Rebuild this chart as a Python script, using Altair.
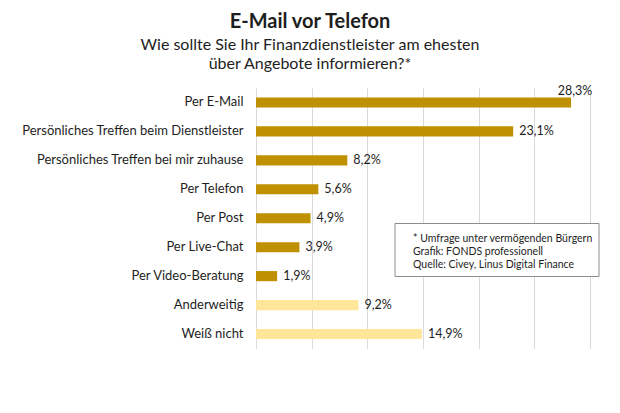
import altair as alt
import pandas as pd

categories = [
    "Per E-Mail",
    "Persönliches Treffen beim Dienstleister",
    "Persönliches Treffen bei mir zuhause",
    "Per Telefon",
    "Per Post",
    "Per Live-Chat",
    "Per Video-Beratung",
    "Anderweitig",
    "Weiß nicht",
]
values = [28.3, 23.1, 8.2, 5.6, 4.9, 3.9, 1.9, 9.2, 14.9]
groups = ["Kanal"] * 7 + ["Sonstiges"] * 2
notes = [
    "* Umfrage unter vermögenden Bürgern",
    "Grafik: FONDS professionell",
    "Quelle: Civey, Linus Digital Finance",
]

df = pd.DataFrame({"Kategorie": categories, "Wert": values, "Gruppe": groups})
df["Label"] = [f"{v:.1f}%".replace(".", ",") for v in values]

FONT = "Lato"
TXT = "#1E1E1E"

y_enc = alt.Y("Kategorie:N", sort=categories,
              scale=alt.Scale(paddingInner=0.65, paddingOuter=0.325),
              axis=alt.Axis(title=None, domain=False, ticks=False, labelPadding=13,
                            labelFont=FONT, labelFontSize=13, labelColor=TXT,
                            labelLimit=400))
x_enc = alt.X("Wert:Q", scale=alt.Scale(domain=[0, 30], nice=False),
              axis=alt.Axis(title=None, values=[0, 5, 10, 15, 20, 25, 30], labels=False,
                            ticks=False, domain=False, grid=True,
                            gridColor="#D9D9D9", gridWidth=1))

base = alt.Chart(df)

bars = base.mark_bar().encode(
    x=x_enc,
    y=y_enc,
    color=alt.Color("Gruppe:N",
                    scale=alt.Scale(domain=["Kanal", "Sonstiges"], range=["#BF9000", "#FFE699"]),
                    legend=None),
)

labels = base.transform_filter("datum.Wert < 25").mark_text(
    align="left", baseline="middle", dx=6, font=FONT, fontSize=12.5, color=TXT
).encode(x="Wert:Q", y=alt.Y("Kategorie:N", sort=categories), text="Label:N")

top_label = base.transform_filter("datum.Wert >= 25").mark_text(
    align="center", baseline="middle", dx=4, dy=-11, font=FONT, fontSize=12.5, color=TXT
).encode(x="Wert:Q", y=alt.Y("Kategorie:N", sort=categories), text="Label:N")

box = alt.Chart(alt.Data(values=[{"n": 1}])).mark_rect(
    fill="white", stroke="#8C8C8C", strokeWidth=1
).encode(x=alt.value(139), x2=alt.value(343), y=alt.value(135.5), y2=alt.value(188.5))

note = alt.Chart(alt.Data(values=[{"n": 1}])).mark_text(
    text=notes, align="left", baseline="middle", lineHeight=13,
    font=FONT, fontSize=10.5, color=TXT
).encode(x=alt.value(157), y=alt.value(150.5))

chart = alt.layer(bars, labels, top_label, box, note).resolve_scale(
    y="shared", x="shared"
).properties(
    width=334,
    height=260.5,
    padding={"left": 248, "top": 80, "right": 20, "bottom": 40},
    autosize=alt.AutoSizeParams(type="none"),
    title=alt.TitleParams(
        text="E-Mail vor Telefon",
        subtitle=["Wie sollte Sie Ihr Finanzdienstleister am ehesten",
                  "über Angebote informieren?*"],
        font=FONT, fontSize=20, fontWeight="bold", color=TXT,
        subtitleFont=FONT, subtitleFontSize=16, subtitleColor=TXT,
        subtitleLineHeight=19.5, subtitlePadding=5,
        anchor="middle", dx=-113, offset=13,
    ),
).configure_view(stroke=None)

chart.save("out.html", embed_options={"renderer": "svg", "actions": False})
